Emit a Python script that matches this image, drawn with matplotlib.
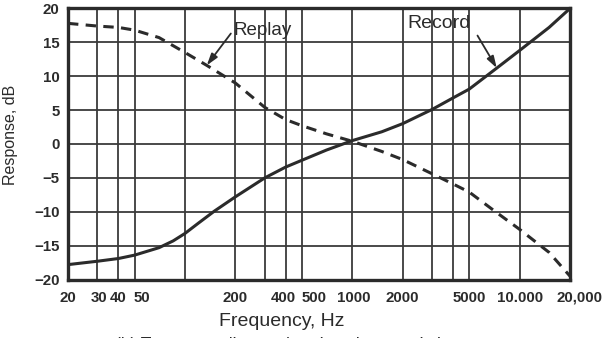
import matplotlib
matplotlib.use("Agg")
import matplotlib.pyplot as plt
from matplotlib.transforms import ScaledTranslation

plt.rcParams['font.family'] = ['Liberation Sans', 'DejaVu Sans']

# Frequency response of the record and replay equalisation curves
record_freq = [20, 30, 40, 50, 70, 85, 100, 120, 150, 200, 300, 400, 500,
               700, 1000, 1500, 2000, 3000, 4000, 5000, 7300, 10000, 15000,
               20000]
record_db = [-17.8, -17.3, -16.9, -16.4, -15.3, -14.3, -13.2, -11.7, -9.9,
             -7.8, -5.0, -3.4, -2.4, -0.9, 0.5, 1.8, 3.0, 5.1, 6.8, 8.1,
             11.2, 13.8, 17.2, 20.0]

replay_freq = [20, 30, 40, 50, 70, 100, 135, 200, 300, 400, 500, 700,
               1000, 1500, 2000, 3000, 4000, 5000, 7000, 10000, 15000, 20000]
replay_db = [17.8, 17.4, 17.2, 16.8, 15.7, 13.5, 11.6, 9.0, 5.4, 3.6, 2.7,
             1.5, 0.4, -1.1, -2.3, -4.4, -5.9, -7.1, -9.8, -12.6, -16.0,
             -19.5]

grid_freqs = [20, 30, 40, 50, 100, 200, 300, 400, 500, 1000, 2000, 3000,
              4000, 5000, 10000, 20000]
freq_labels = ["20", "30", "40", "50", "", "200", "", "400", "500", "1000",
               "2000", "", "", "5000", "10.000", "20,000"]
# horizontal nudges (points) for the crowded frequency labels
label_nudge = [0, 1, 0, 5, 0, 0, 0, -2, 9, 1, 0, 0, 0, 0, 0, 7]
db_ticks = [-20, -15, -10, -5, 0, 5, 10, 15, 20]
db_labels = ["\u221220", "\u221215", "\u221210", "\u22125", "0", "5", "10",
             "15", "20"]

ink = "#2b2b2b"

fig = plt.figure(figsize=(6.11, 3.38), dpi=100)
ax = fig.add_axes([0.1113, 0.173, 0.8216, 0.802])

ax.semilogx(record_freq, record_db, color=ink, lw=2.2, solid_capstyle='round')
ax.semilogx(replay_freq, replay_db, color=ink, lw=2.2, dashes=(3.4, 2.4))

ax.set_xlim(20, 20000)
ax.set_ylim(-20, 20)
ax.set_xticks(grid_freqs)
ax.set_xticklabels(freq_labels)
ax.xaxis.set_minor_locator(matplotlib.ticker.NullLocator())
ax.set_yticks(db_ticks)
ax.set_yticklabels(db_labels)

ax.grid(True, which='major', color="#3a3a3a", lw=1.3)
ax.tick_params(length=0, labelsize=10.8, colors=ink)
ax.tick_params(axis='x', pad=8)
ax.tick_params(axis='y', pad=6)
for lab in ax.get_xticklabels() + ax.get_yticklabels():
    lab.set_fontweight('bold')
for lab, dx in zip(ax.get_xticklabels(), label_nudge):
    lab.set_transform(lab.get_transform()
                      + ScaledTranslation(dx / 72, 0, fig.dpi_scale_trans))
for sp in ax.spines.values():
    sp.set_color(ink)
    sp.set_linewidth(2.4)

arrow = dict(arrowstyle='-|>,head_length=0.7,head_width=0.22', lw=1.3,
             color=ink, shrinkA=0, shrinkB=0)
ax.annotate("", xy=(135, 11.6), xytext=(188, 16.3), arrowprops=arrow)
ax.annotate("", xy=(7300, 11.2), xytext=(5600, 16.0), arrowprops=arrow)
ax.text(196, 16.7, "Replay", ha='left', va='center', fontsize=13.5,
        color=ink)
ax.text(5100, 17.8, "Record", ha='right', va='center', fontsize=14,
        color=ink)

fig.text(0.017, 0.60, "Response, dB", rotation=90, ha='center', va='center',
         fontsize=11.5, color=ink)
fig.text(0.4615, 0.050, "Frequency, Hz", ha='center', va='center',
         fontsize=14, color=ink)
fig.text(0.47, 0.004, "(b) Tape recording and replay characteristics",
         ha='center', va='top', fontsize=12.5, color=ink)

fig.savefig("out.png", dpi=100)
